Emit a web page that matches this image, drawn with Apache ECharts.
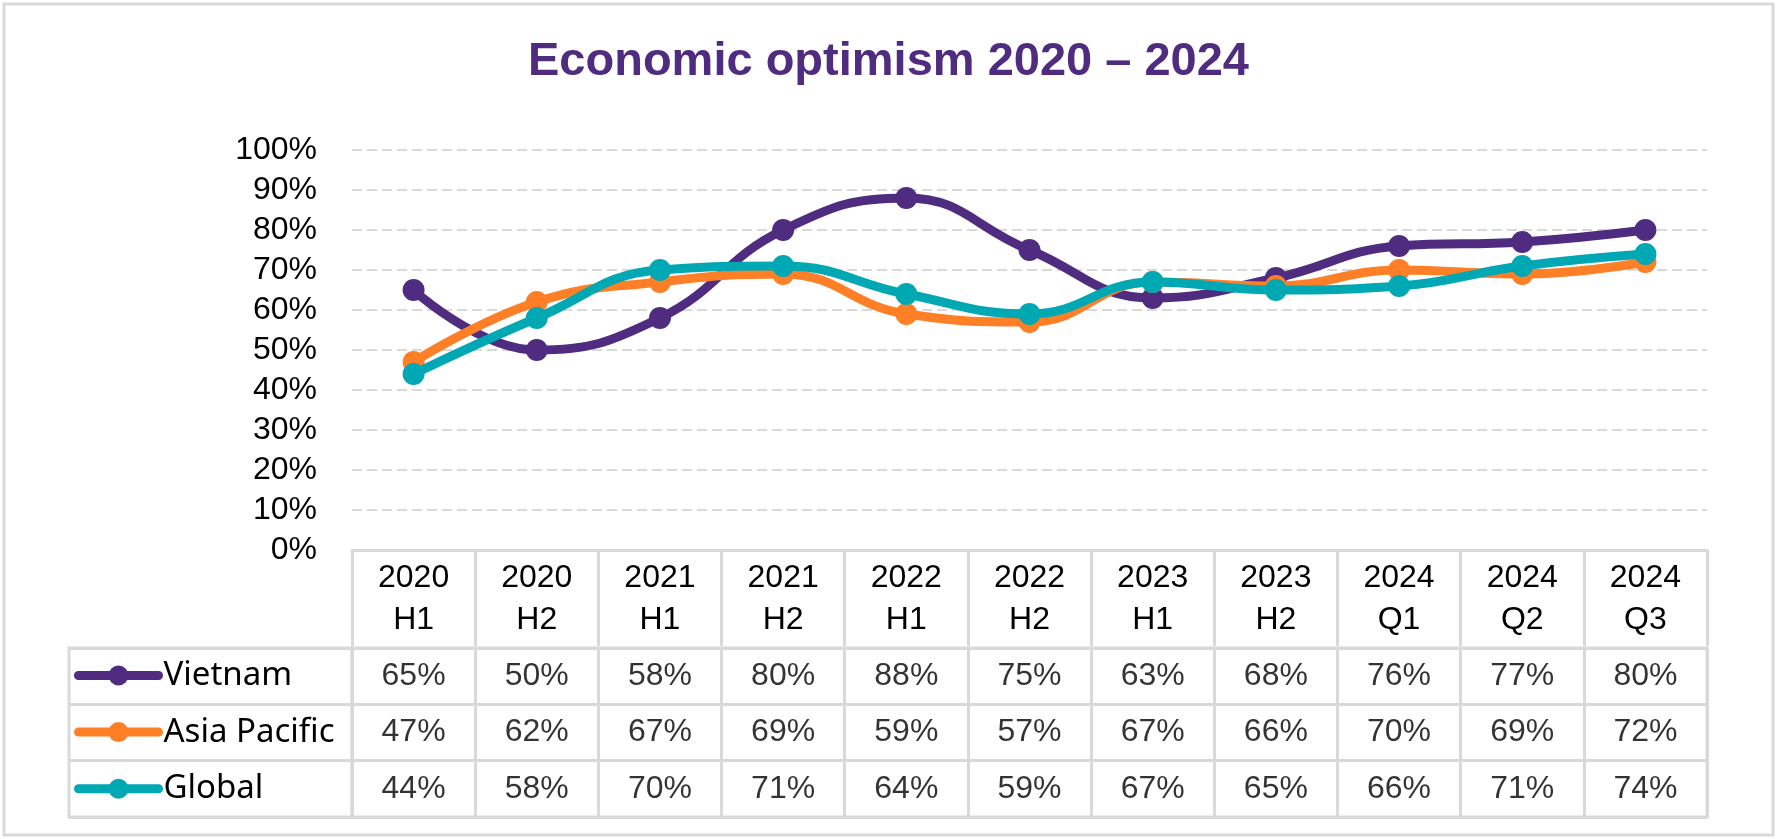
<!DOCTYPE html>
<html>
<head>
<meta charset="utf-8">
<script src="https://cdn.jsdelivr.net/npm/echarts@6/dist/echarts.min.js"></script>
<style>
html,body{margin:0;padding:0;background:#fff;}
#chart{width:1777px;height:839px;}
</style>
</head>
<body>
<div id="chart"></div>
<script>
const categories = ['2020\nH1','2020\nH2','2021\nH1','2021\nH2','2022\nH1','2022\nH2','2023\nH1','2023\nH2','2024\nQ1','2024\nQ2','2024\nQ3'];
const seriesNames = ['Vietnam','Asia Pacific','Global'];
const vietnam = [65,50,58,80,88,75,63,68,76,77,80];
const asiaPacific = [47,62,67,69,59,57,67,66,70,69,72];
const global = [44,58,70,71,64,59,67,65,66,71,74];
const yTicks = [0,10,20,30,40,50,60,70,80,90,100];
const colors = ['#4F2C80','#FF7F27','#00A8B4'];

const allValues = [vietnam, asiaPacific, global];
const gridColor = '#D9D9D9';
const numFont = 'Liberation Sans, Arial, sans-serif';

const tableData = [];
allValues.forEach((arr, r) => arr.forEach((v, c) => tableData.push([c, r, v])));

const chart = echarts.init(document.getElementById('chart'), null, {renderer:'canvas'});

const lineSeries = seriesNames.map((name, i) => ({
  name: name,
  type: 'line',
  xAxisIndex: 0, yAxisIndex: 0,
  data: allValues[i],
  smooth: 0.45,
  symbol: 'circle',
  symbolSize: 22,
  lineStyle: {width: 9, color: colors[i], cap: 'round'},
  itemStyle: {color: colors[i]},
  z: 3 + i
}));

const option = {
  animation: false,
  backgroundColor: '#fff',
  title: {
    text: 'Economic optimism 2020 \u2013 2024',
    left: 'center',
    top: 34,
    textStyle: {fontFamily: numFont, fontWeight: 'bold', fontSize: 47, color: '#4F2C80'}
  },
  graphic: [{
    type: 'rect', shape: {x: 4, y: 4, width: 1769, height: 831},
    style: {fill: 'none', stroke: gridColor, lineWidth: 3}, silent: true
  }],
  legend: {
    orient: 'vertical',
    left: 74,
    top: 659,
    padding: 0,
    itemWidth: 80,
    itemHeight: 25,
    itemGap: 23.6,
    data: seriesNames,
    lineStyle: {width: 9, cap: 'round'},
    textStyle: {fontFamily: 'Noto Sans, sans-serif', fontSize: 33, lineHeight: 25, color: '#000'}
  },
  grid: [
    {left: 352, width: 1355, top: 150, height: 400},
    {left: 352, width: 1355, top: 648, height: 169, show: true, borderColor: gridColor, borderWidth: 3},
    {left: 69, width: 283, top: 648, height: 169, show: true, borderColor: gridColor, borderWidth: 3}
  ],
  xAxis: [
    {
      gridIndex: 0, type: 'category', data: categories, boundaryGap: true,
      axisLine: {show: true, lineStyle: {color: gridColor, width: 3}},
      axisTick: {show: true, interval: 0, length: 96, lineStyle: {color: gridColor, width: 3}},
      axisLabel: {interval: 0, margin: 7, fontFamily: numFont, fontSize: 32, lineHeight: 42, color: '#000'},
      splitLine: {show: false}
    },
    {
      gridIndex: 1, type: 'category', data: categories, boundaryGap: true,
      axisLine: {show: false}, axisTick: {show: false}, axisLabel: {show: false},
      splitLine: {show: true, interval: 0, lineStyle: {color: gridColor, width: 3}}
    },
    {
      gridIndex: 2, type: 'value', show: false
    }
  ],
  yAxis: [
    {
      gridIndex: 0, type: 'value', min: yTicks[0], max: yTicks[yTicks.length-1], interval: 10,
      axisLine: {show: false}, axisTick: {show: false},
      axisLabel: {margin: 35, formatter: '{value}%', fontFamily: numFont, fontSize: 32, color: '#000'},
      splitLine: {show: true, lineStyle: {color: gridColor, width: 2, type: [10, 5]}}
    },
    {
      gridIndex: 1, type: 'category', data: seriesNames, inverse: true, boundaryGap: true,
      axisLine: {show: false}, axisTick: {show: false}, axisLabel: {show: false},
      splitLine: {show: true, interval: 0, lineStyle: {color: gridColor, width: 3}}
    },
    {
      gridIndex: 2, type: 'category', data: seriesNames, inverse: true, boundaryGap: true,
      axisLine: {show: false}, axisTick: {show: false}, axisLabel: {show: false},
      splitLine: {show: true, interval: 0, lineStyle: {color: gridColor, width: 3}}
    }
  ],
  series: lineSeries.concat([{
    type: 'scatter',
    xAxisIndex: 1, yAxisIndex: 1,
    data: tableData,
    symbol: 'rect',
    symbolSize: 1,
    itemStyle: {color: 'rgba(0,0,0,0)'},
    label: {
      show: true, position: 'inside',
      formatter: p => p.value[2] + '%',
      fontFamily: numFont, fontSize: 32, color: '#000'
    },
    silent: true,
    legendHoverLink: false
  }])
};
chart.setOption(option);
</script>
</body>
</html>
